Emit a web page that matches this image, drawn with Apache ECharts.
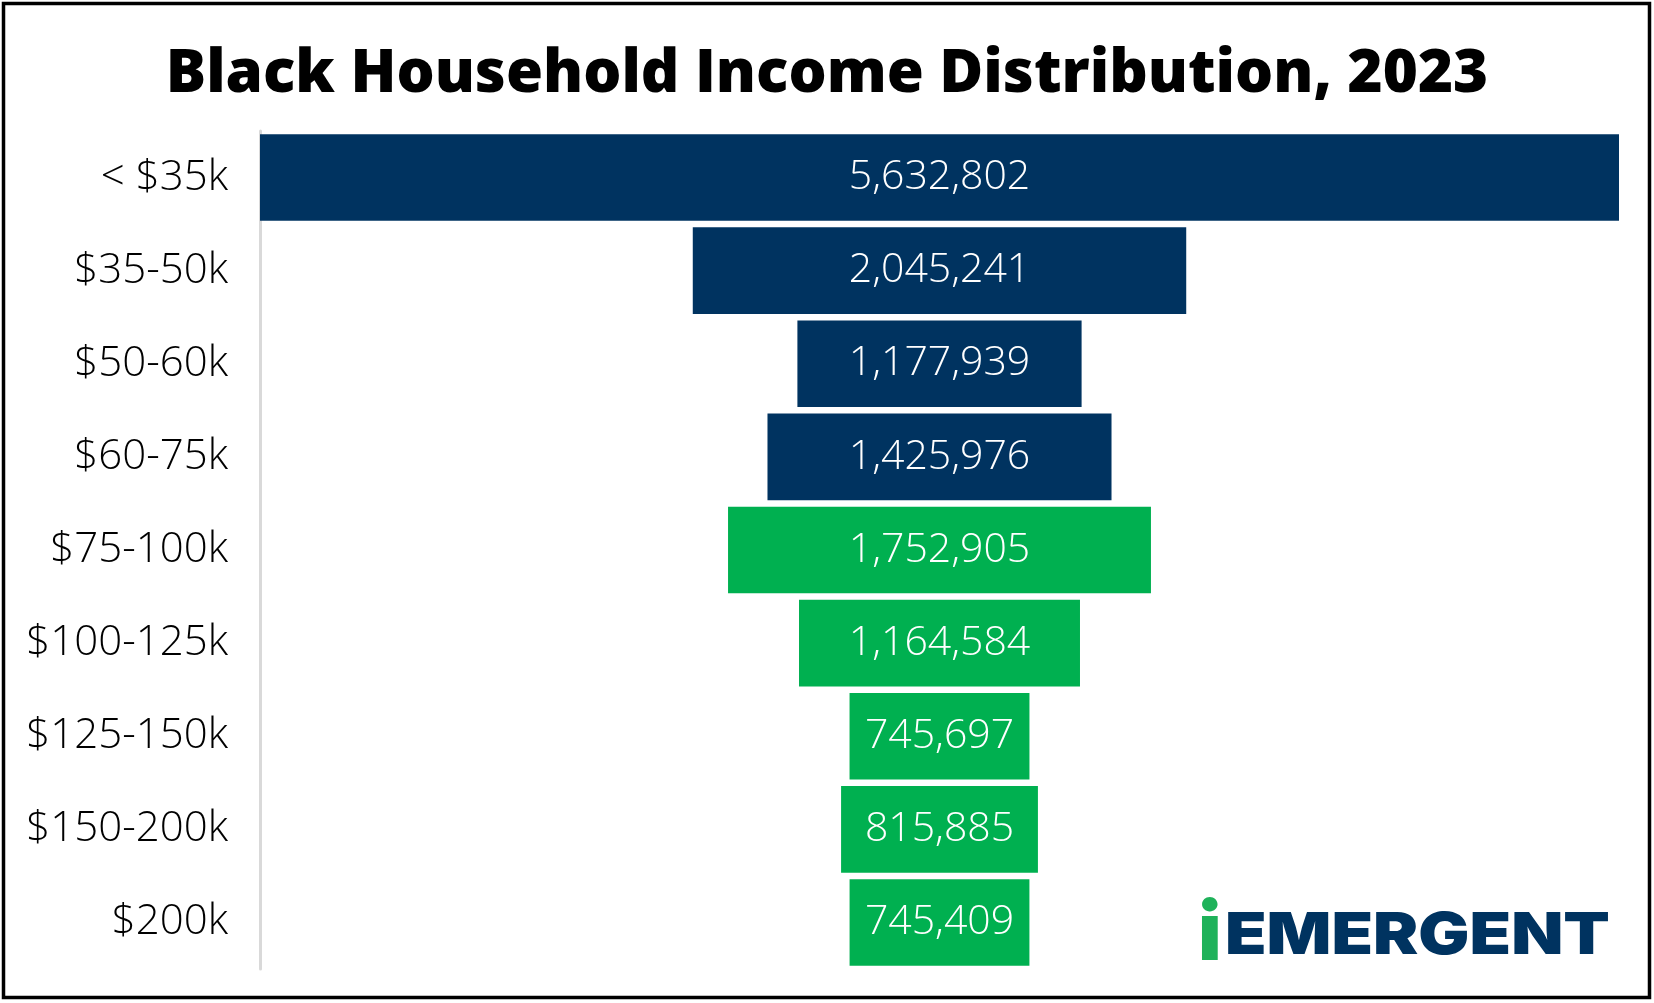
<!DOCTYPE html>
<html>
<head>
<meta charset="utf-8">
<title>Black Household Income Distribution, 2023</title>
<script src="https://cdn.jsdelivr.net/npm/echarts@6/dist/echarts.min.js"></script>
<style>
    html, body {margin: 0; padding: 0; background: #fff;}
    #chart {width: 1654px; height: 1003px;}
</style>
</head>
<body>
<div id="chart"></div>
<script>
// 收入区间
var categories = ['< $35k', '$35-50k', '$50-60k', '$60-75k', '$75-100k', '$100-125k', '$125-150k', '$150-200k', '$200k'];
// 家庭数
var households = [5632802, 2045241, 1177939, 1425976, 1752905, 1164584, 745697, 815885, 745409];
// 前几档用深蓝，其余用绿色
var navyCount = 4;

var navy = '#003360';
var green = '#00B050';
var maxValue = Math.max.apply(null, households);

// 居中用的透明垫底
var padding = households.map(function (v) {
    return (maxValue - v) / 2;
});

function funnelBar(elem) {
    var myChart = echarts.init(document.getElementById(elem));
    var option = {
        animation: false,
        title: {
            text: 'Black Household Income Distribution, 2023',
            left: 'center',
            top: 40,
            textStyle: {
                fontFamily: 'Open Sans',
                fontWeight: 800,
                fontSize: 60,
                color: '#000'
            }
        },
        grid: {
            left: 260,
            right: 35,
            top: 131,
            bottom: 34
        },
        xAxis: {
            type: 'value',
            min: 0,
            max: maxValue,
            show: false
        },
        yAxis: {
            type: 'category',
            inverse: true,
            data: categories,
            offset: 2,
            axisLine: {
                show: true,
                lineStyle: {color: '#d9d9d9', width: 3}
            },
            axisTick: {show: false},
            axisLabel: {
                color: '#000',
                fontFamily: 'Open Sans',
                fontWeight: 300,
                fontSize: 42,
                margin: 30
            }
        },
        series: [
            {
                type: 'bar',
                stack: 'funnel',
                silent: true,
                itemStyle: {color: 'transparent'},
                data: padding
            },
            {
                type: 'bar',
                stack: 'funnel',
                barCategoryGap: '7%',
                itemStyle: {
                    color: function (params) {
                        return params.dataIndex < navyCount ? navy : green;
                    }
                },
                label: {
                    show: true,
                    position: 'inside',
                    color: '#fff',
                    fontFamily: 'Open Sans',
                    fontWeight: 300,
                    fontSize: 41,
                    formatter: function (params) {
                        return params.value.toLocaleString('en-US');
                    }
                },
                data: households
            }
        ],
        graphic: [
            // 外框
            {
                type: 'rect',
                shape: {x: 3.5, y: 3.5, width: 1646, height: 994},
                style: {fill: 'none', stroke: '#000', lineWidth: 3.5},
                z: 100
            },
            // logo
            {
                type: 'text',
                left: 1198,
                top: 896,
                style: {
                    text: 'i',
                    fill: '#1fb25a',
                    font: '900 80px Inter'
                }
            },
            {
                type: 'text',
                left: 1225,
                top: 908,
                scaleX: 1.17,
                style: {
                    text: 'EMERGENT',
                    fill: navy,
                    font: '900 58px Inter'
                }
            }
        ]
    };
    myChart.setOption(option);
}

funnelBar('chart');
</script>
</body>
</html>
